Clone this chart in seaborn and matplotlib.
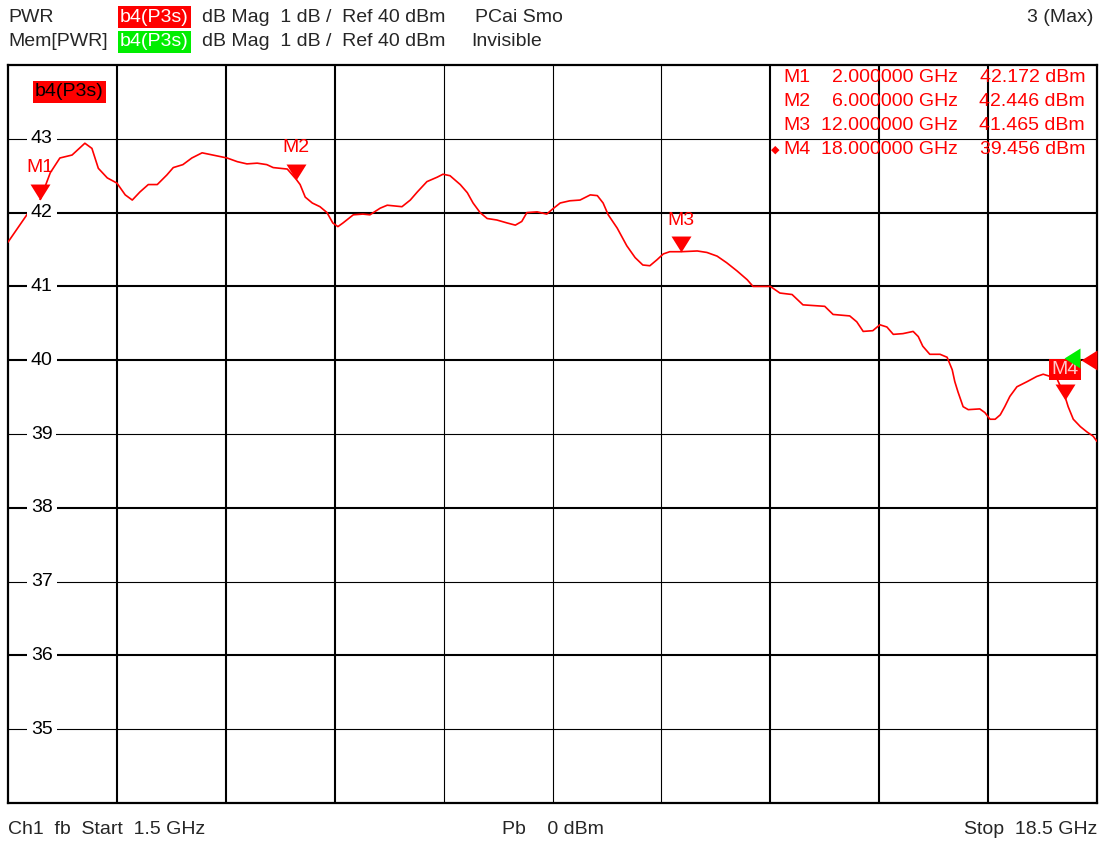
import numpy as np
import matplotlib
matplotlib.use("Agg")
import matplotlib.pyplot as plt
import matplotlib.transforms as mtransforms
from matplotlib.path import Path
import seaborn as sns

# trace b4(P3s)
freq_ghz = [1.50, 1.81, 2.00, 2.16, 2.31, 2.50, 2.70, 2.81, 2.91, 3.05, 3.20, 3.33,
            3.44, 3.56, 3.69, 3.83, 3.98, 4.08, 4.23, 4.37, 4.53, 4.70, 4.92, 5.08,
            5.23, 5.39, 5.54, 5.64, 5.86, 6.00, 6.06, 6.14, 6.25, 6.37, 6.48, 6.57,
            6.65, 6.73, 6.89, 7.04, 7.15, 7.31, 7.42, 7.65, 7.78, 7.89, 8.04, 8.20,
            8.29, 8.40, 8.56, 8.67, 8.76, 8.87, 8.98, 9.13, 9.29, 9.42, 9.52, 9.60,
            9.76, 9.91, 9.99, 10.12, 10.27, 10.43, 10.59, 10.70, 10.79, 10.87, 11.01,
            11.16, 11.29, 11.41, 11.52, 11.63, 11.73, 11.83, 12.00, 12.26, 12.41,
            12.57, 12.72, 12.88, 13.04, 13.13, 13.40, 13.55, 13.74, 13.91, 14.07,
            14.25, 14.38, 14.64, 14.75, 14.85, 15.00, 15.11, 15.22, 15.32, 15.47,
            15.63, 15.71, 15.78, 15.89, 16.05, 16.16, 16.24, 16.28, 16.33, 16.41,
            16.49, 16.67, 16.75, 16.83, 16.91, 16.99, 17.06, 17.14, 17.25, 17.41,
            17.56, 17.66, 17.77, 17.88, 18.00, 18.05, 18.13, 18.24, 18.34, 18.44, 18.50]
power_dbm = [41.60, 41.99, 42.17, 42.54, 42.74, 42.78, 42.94, 42.87, 42.60, 42.47, 42.40, 42.24,
             42.17, 42.28, 42.38, 42.38, 42.51, 42.61, 42.65, 42.74, 42.81, 42.78, 42.74, 42.69,
             42.66, 42.67, 42.65, 42.61, 42.59, 42.45, 42.38, 42.21, 42.13, 42.08, 42.00, 41.86,
             41.81, 41.86, 41.97, 41.98, 41.97, 42.06, 42.10, 42.08, 42.17, 42.28, 42.42, 42.48,
             42.52, 42.50, 42.38, 42.27, 42.13, 42.00, 41.92, 41.90, 41.86, 41.83, 41.88, 42.00,
             42.01, 41.98, 42.04, 42.13, 42.16, 42.17, 42.24, 42.23, 42.13, 41.97, 41.79,
             41.55, 41.39, 41.29, 41.28, 41.36, 41.44, 41.47, 41.47, 41.48, 41.46,
             41.41, 41.32, 41.21, 41.09, 41.00, 41.00, 40.91, 40.89, 40.75, 40.74,
             40.73, 40.62, 40.60, 40.52, 40.39, 40.40, 40.48, 40.45, 40.35, 40.36,
             40.39, 40.32, 40.19, 40.08, 40.08, 40.04, 39.87, 39.71, 39.57, 39.37,
             39.33, 39.34, 39.29, 39.20, 39.20, 39.26, 39.37, 39.51, 39.64, 39.71,
             39.78, 39.81, 39.78, 39.74, 39.51, 39.37, 39.20, 39.10, 39.03, 38.97, 38.90]

marker_names = ["M1", "M2", "M3", "M4"]
marker_freq = [2.0, 6.0, 12.0, 18.0]
marker_val = [42.172, 42.446, 41.465, 39.456]

start_ghz, stop_ghz = 1.5, 18.5
ref_dbm = 40
y_min, y_max = 34, 44
y_labels = [35, 36, 37, 38, 39, 40, 41, 42, 43]

RED = "#ff0000"
GREEN = "#00ee00"

sns.set_theme(style="white")
plt.rcParams["font.family"] = ["Liberation Sans", "DejaVu Sans"]
FS = 14

W, H = 1102, 841
fig = plt.figure(figsize=(W / 100, H / 100), dpi=100)
ax = fig.add_axes([8 / W, 1 - 803 / H, 1089 / W, 738 / H])

# grid - the screen mixes 1px and 2px lines
x_div = np.linspace(start_ghz, stop_ghz, 11)[1:-1]
x_lw = [1.5, 1.5, 1.5, 0.8, 0.8, 0.8, 1.5, 1.5, 1.5]
for xv, lw in zip(x_div, x_lw):
    ax.axvline(xv, color="black", lw=lw, zorder=1)
h_lw = {43: 0.8, 42: 1.5, 41: 1.5, 40: 1.5, 39: 0.8, 38: 1.5, 37: 0.8, 36: 1.5, 35: 0.8}
for yv in y_labels:
    ax.axhline(yv, color="black", lw=h_lw[yv], zorder=1)

# trace
sns.lineplot(x=freq_ghz, y=power_dbm, ax=ax, color=RED, lw=1.2, sort=False,
             estimator=None, zorder=3)

ax.set_xlim(start_ghz, stop_ghz)
ax.set_ylim(y_min, y_max)
ax.set_xticks([])
ax.set_yticks([])
ax.set_xlabel("")
ax.set_ylabel("")
for sp in ax.spines.values():
    sp.set_color("black")
    sp.set_linewidth(1.6)
    sp.set_visible(True)

# y labels sit on the grid lines
blend = mtransforms.blended_transform_factory(ax.transAxes, ax.transData)
for yv in y_labels:
    ax.text(0.031, yv, str(yv), transform=blend, ha="center", va="center",
            fontsize=FS, color="black", zorder=4,
            bbox=dict(boxstyle="square,pad=0.2", fc="white", ec="none"))

# marker triangles, tip at the value
tri_down = Path([(-10, 16), (10, 16), (0, 0), (-10, 16)],
                [Path.MOVETO, Path.LINETO, Path.LINETO, Path.CLOSEPOLY])
ax.plot(marker_freq, marker_val, ls="none", marker=tri_down, ms=23,
        color=RED, mec="none", zorder=5)
for name, f, v in zip(marker_names, marker_freq, marker_val):
    if name == "M4":
        ax.annotate(name, (f, v), xytext=(0, 22), textcoords="offset points",
                    ha="center", va="center", fontsize=FS, color="#ffc8c8", zorder=6,
                    bbox=dict(boxstyle="square,pad=0.1", fc=RED, ec="none"))
    else:
        ax.annotate(name, (f, v), xytext=(0, 23), textcoords="offset points",
                    ha="center", va="center", fontsize=FS, color=RED, zorder=6)

# reference level arrows at the right edge
tri_left = Path([(-16, 0), (0, -10), (0, 10), (-16, 0)],
                [Path.MOVETO, Path.LINETO, Path.LINETO, Path.CLOSEPOLY])
green_tr = mtransforms.offset_copy(ax.transData, fig=fig, x=-17, y=2, units="dots")
ax.plot([stop_ghz], [ref_dbm], marker=tri_left, ms=23, color=GREEN, mec="none",
        transform=green_tr, clip_on=False, zorder=7)
ax.plot([stop_ghz], [ref_dbm], marker=tri_left, ms=23, color=RED, mec="none",
        clip_on=False, zorder=7)

# trace label inside the diagram
fig.text(35 / W, 1 - 92 / H, "b4(P3s)", fontsize=FS, color="black", va="center",
         bbox=dict(boxstyle="square,pad=0.12", fc=RED, ec="none"))

# marker table
rows_y = [77, 101, 126, 150]
for name, f, v, ry in zip(marker_names, marker_freq, marker_val, rows_y):
    yy = 1 - ry / H
    fig.text(783 / W, yy, name, fontsize=FS, color=RED, va="center")
    fig.text(958 / W, yy, f"{f:.6f} GHz", fontsize=FS, color=RED, va="center", ha="right")
    fig.text(1085 / W, yy, f"{v:.3f} dBm", fontsize=FS, color=RED, va="center", ha="right")
fig.text(775 / W, 1 - rows_y[-1] / H, "\u25c6", fontsize=8, color=RED, va="center",
         ha="center", family="DejaVu Sans")

# header lines
y1, y2 = 1 - 17 / H, 1 - 42 / H
fig.text(8 / W, y1, "PWR", fontsize=FS, va="center")
fig.text(120 / W, y1, "b4(P3s)", fontsize=FS, va="center", color="white",
         bbox=dict(boxstyle="square,pad=0.12", fc=RED, ec="none"))
fig.text(202 / W, y1, "dB Mag  1 dB /  Ref 40 dBm", fontsize=FS, va="center")
fig.text(475 / W, y1, "PCai Smo", fontsize=FS, va="center")
fig.text(1093 / W, y1, "3 (Max)", fontsize=FS, va="center", ha="right")
fig.text(8 / W, y2, "Mem[PWR]", fontsize=FS, va="center")
fig.text(120 / W, y2, "b4(P3s)", fontsize=FS, va="center", color="white",
         bbox=dict(boxstyle="square,pad=0.12", fc=GREEN, ec="none"))
fig.text(202 / W, y2, "dB Mag  1 dB /  Ref 40 dBm", fontsize=FS, va="center")
fig.text(471 / W, y2, "Invisible", fontsize=FS, va="center")

# footer
yb = 1 - 829 / H
fig.text(8 / W, yb, "Ch1  fb  Start  1.5 GHz", fontsize=FS, va="center")
fig.text(502 / W, yb, "Pb    0 dBm", fontsize=FS, va="center")
fig.text(1097 / W, yb, "Stop  18.5 GHz", fontsize=FS, va="center", ha="right")

fig.savefig("out.png", dpi=100, facecolor="white")
